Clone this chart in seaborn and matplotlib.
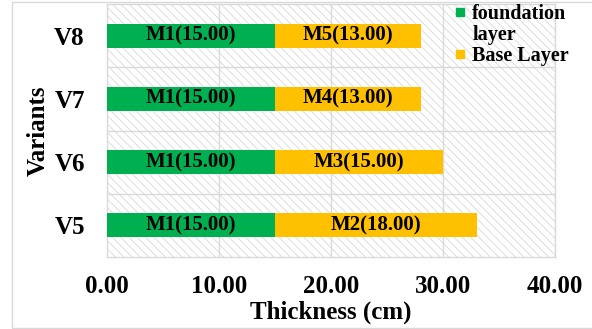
import matplotlib
matplotlib.use("Agg")
import matplotlib.pyplot as plt
from matplotlib.patches import Rectangle
from matplotlib.lines import Line2D
import seaborn as sns
import pandas as pd

variants = ["V8", "V7", "V6", "V5"]
foundation = [15.0, 15.0, 15.0, 15.0]
base = [13.0, 13.0, 15.0, 18.0]
foundation_names = ["M1", "M1", "M1", "M1"]
base_names = ["M5", "M4", "M3", "M2"]
x_ticks = [0, 10, 20, 30, 40]

GREEN = "#00B050"
GOLD = "#FFC000"
GRID = "#d9d9d9"

sns.set_theme(style="white")
plt.rcParams["font.family"] = ["Liberation Serif", "DejaVu Serif"]
plt.rcParams["font.weight"] = "bold"
plt.rcParams["text.color"] = "black"
plt.rcParams["axes.labelcolor"] = "black"
plt.rcParams["xtick.color"] = "black"
plt.rcParams["ytick.color"] = "black"
plt.rcParams["hatch.color"] = "#d8d8d8"
plt.rcParams["hatch.linewidth"] = 0.6

df = pd.DataFrame({
    "variant": variants,
    "foundation": foundation,
    "base": base,
})
df["total"] = df["foundation"] + df["base"]

fig = plt.figure(figsize=(5.92, 3.29), dpi=100)
fig.patch.set_facecolor("white")
# outer chart frame
fig.add_artist(Rectangle((12 / 592, 0.003), 1.0, 0.99, transform=fig.transFigure,
                         fill=False, edgecolor=GRID, linewidth=1.0))

ax = fig.add_axes([107 / 592, 1 - 257 / 329, 448 / 592, 253 / 329])
ax.set_facecolor("white")
# hatched plot-area background
ax.add_patch(Rectangle((0, 0), 1, 1, transform=ax.transAxes, facecolor="white",
                       edgecolor="#d8d8d8", hatch="\\\\\\\\", linewidth=0, zorder=0))

sns.barplot(data=df, y="variant", x="total", order=variants, color=GOLD,
            orient="h", width=0.38, saturation=1, ax=ax, zorder=3,
            errorbar=None, linewidth=0)
sns.barplot(data=df, y="variant", x="foundation", order=variants, color=GREEN,
            orient="h", width=0.38, saturation=1, ax=ax, zorder=4,
            errorbar=None, linewidth=0)

for i in range(len(variants)):
    ax.text(foundation[i] / 2, i, f"{foundation_names[i]}({foundation[i]:.2f})",
            ha="center", va="center", fontsize=15, fontweight="bold", color="black", zorder=5)
    ax.text(foundation[i] + base[i] / 2, i, f"{base_names[i]}({base[i]:.2f})",
            ha="center", va="center", fontsize=15, fontweight="bold", color="black", zorder=5)

ax.set_xlim(0, 40)
ax.set_ylim(3.5, -0.5)
ax.set_xticks(x_ticks)
ax.set_xticklabels([f"{t:.2f}" for t in x_ticks])
for x in x_ticks[1:]:
    ax.axvline(x, color=GRID, linewidth=1.0, zorder=1)
for y in [0.5, 1.5, 2.5]:
    ax.axhline(y, color=GRID, linewidth=1.0, zorder=1)
for s in ax.spines.values():
    s.set_visible(True)
    s.set_color(GRID)
    s.set_linewidth(1.0)

ax.tick_params(axis="both", length=0, labelsize=18)
ax.tick_params(axis="y", pad=16)
ax.tick_params(axis="x", pad=13)
for lbl in ax.get_xticklabels() + ax.get_yticklabels():
    lbl.set_fontweight("bold")

ax.set_xlabel("Thickness (cm)", fontsize=18, fontweight="bold", labelpad=2)
ax.set_ylabel("Variants", fontsize=18, fontweight="bold")
ax.yaxis.set_label_coords(-0.128, 0.5)

# legend: the long label wraps onto a second, marker-less row
h = [Line2D([], [], marker="s", linestyle="", color=GREEN, markersize=6),
     Line2D([], [], marker="", linestyle="", color="none"),
     Line2D([], [], marker="s", linestyle="", color=GOLD, markersize=6)]
leg = ax.legend(h, ["foundation", "layer", "Base Layer"], loc="upper left",
                bbox_to_anchor=(444 / 592, 1.018), bbox_transform=fig.transFigure,
                frameon=False, handlelength=0.6, handletextpad=0.3,
                borderpad=0.0, labelspacing=0.05, prop={"weight": "bold", "size": 14.5})

fig.savefig("out.png", dpi=100)
